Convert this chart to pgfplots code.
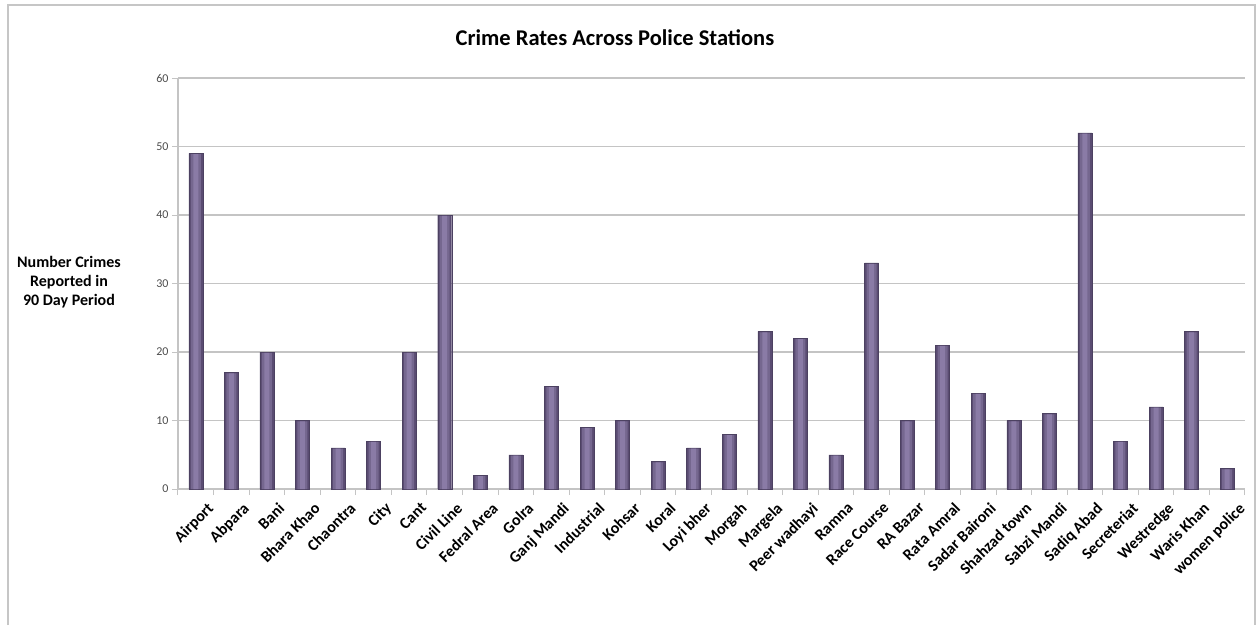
\documentclass[border=0pt]{standalone}
\usepackage{fontspec}
\setmainfont{Carlito}
\usepackage{pgfplots}
\usepackage{pgfplotstable}
\pgfplotsset{compat=1.18}
\definecolor{barmid}{HTML}{8A7BA6}
\definecolor{barin}{HTML}{75678F}
\definecolor{baredge}{HTML}{5A4C72}
\definecolor{gridc}{HTML}{C4C4C4}
\pgfplotstableread{
x y
0 49
1 17
2 20
3 10
4 6
5 7
6 20
7 40
8 2
9 5
10 15
11 9
12 10
13 4
14 6
15 8
16 23
17 22
18 5
19 33
20 10
21 21
22 14
23 10
24 11
25 52
26 7
27 12
28 23
29 3
}\crimes
\begin{document}
\begin{tikzpicture}[x=1pt,y=1pt]
\useasboundingbox (-178,-136) rectangle (1081,489);
\draw[gray!45, line width=1.2pt] (-170,-136) -- (-170,484) -- (1077,484) -- (1077,-136);
\node[font=\fontsize{22.5}{26}\selectfont\bfseries] at (437,451) {Crime Rates Across Police Stations};
\node[font=\fontsize{16}{19}\selectfont\bfseries, align=center] at (-109,207) {Number Crimes\\ Reported in\\ 90 Day Period};
\begin{axis}[
  at={(0,0)}, anchor=south west,
  scale only axis, width=1067pt, height=411pt,
  xmin=-0.5, xmax=29.5, ymin=0, ymax=60,
  ytick={0,10,...,60},
  xtick={0,...,29},
  xticklabels={Airport,Abpara,Bani,Bhara Khao,Chaontra,City,Cant,Civil Line,Fedral Area,Golra,Ganj Mandi,Industrial,Kohsar,Koral,Loyi bher,Morgah,Margela,Peer  wadhayi,Ramna,Race Course,RA Bazar,Rata Amral,Sadar Baironi,Shahzad town,Sabzi Mandi,Sadiq Abad,Secreteriat,Westredge,Waris Khan,women police},
  minor xtick={-0.5,0.5,...,29.5},
  x tick style={draw=none},
  minor x tick style={draw=gridc, line width=1pt},
  minor tick length=6pt,
  y tick style={draw=gridc, line width=1pt},
  major tick length=6pt,
  tick align=outside,
  axis x line*=bottom, axis y line*=left,
  axis line style={gridc, line width=1.2pt, -},
  ymajorgrids, major grid style={gridc, line width=1.2pt},
  xticklabel style={font=\fontsize{16}{18}\selectfont\bfseries, rotate=45, anchor=north east, inner sep=1pt, yshift=-11pt, xshift=4pt},
  yticklabel style={font=\fontsize{12}{14}\selectfont, text=black!70},
  /pgf/number format/assume math mode=true,
  ybar,
]
\addplot[bar shift=0pt, bar width=14pt, fill=baredge, draw=baredge!85!black, line width=0.4pt] table[x=x,y=y] {\crimes};
\addplot[bar shift=0pt, bar width=10pt, fill=barin, draw=none] table[x=x,y expr=\thisrow{y}-0.12] {\crimes};
\addplot[bar shift=0pt, bar width=5pt, fill=barmid, draw=none] table[x=x,y expr=\thisrow{y}-0.12] {\crimes};
\end{axis}
\end{tikzpicture}
\end{document}
